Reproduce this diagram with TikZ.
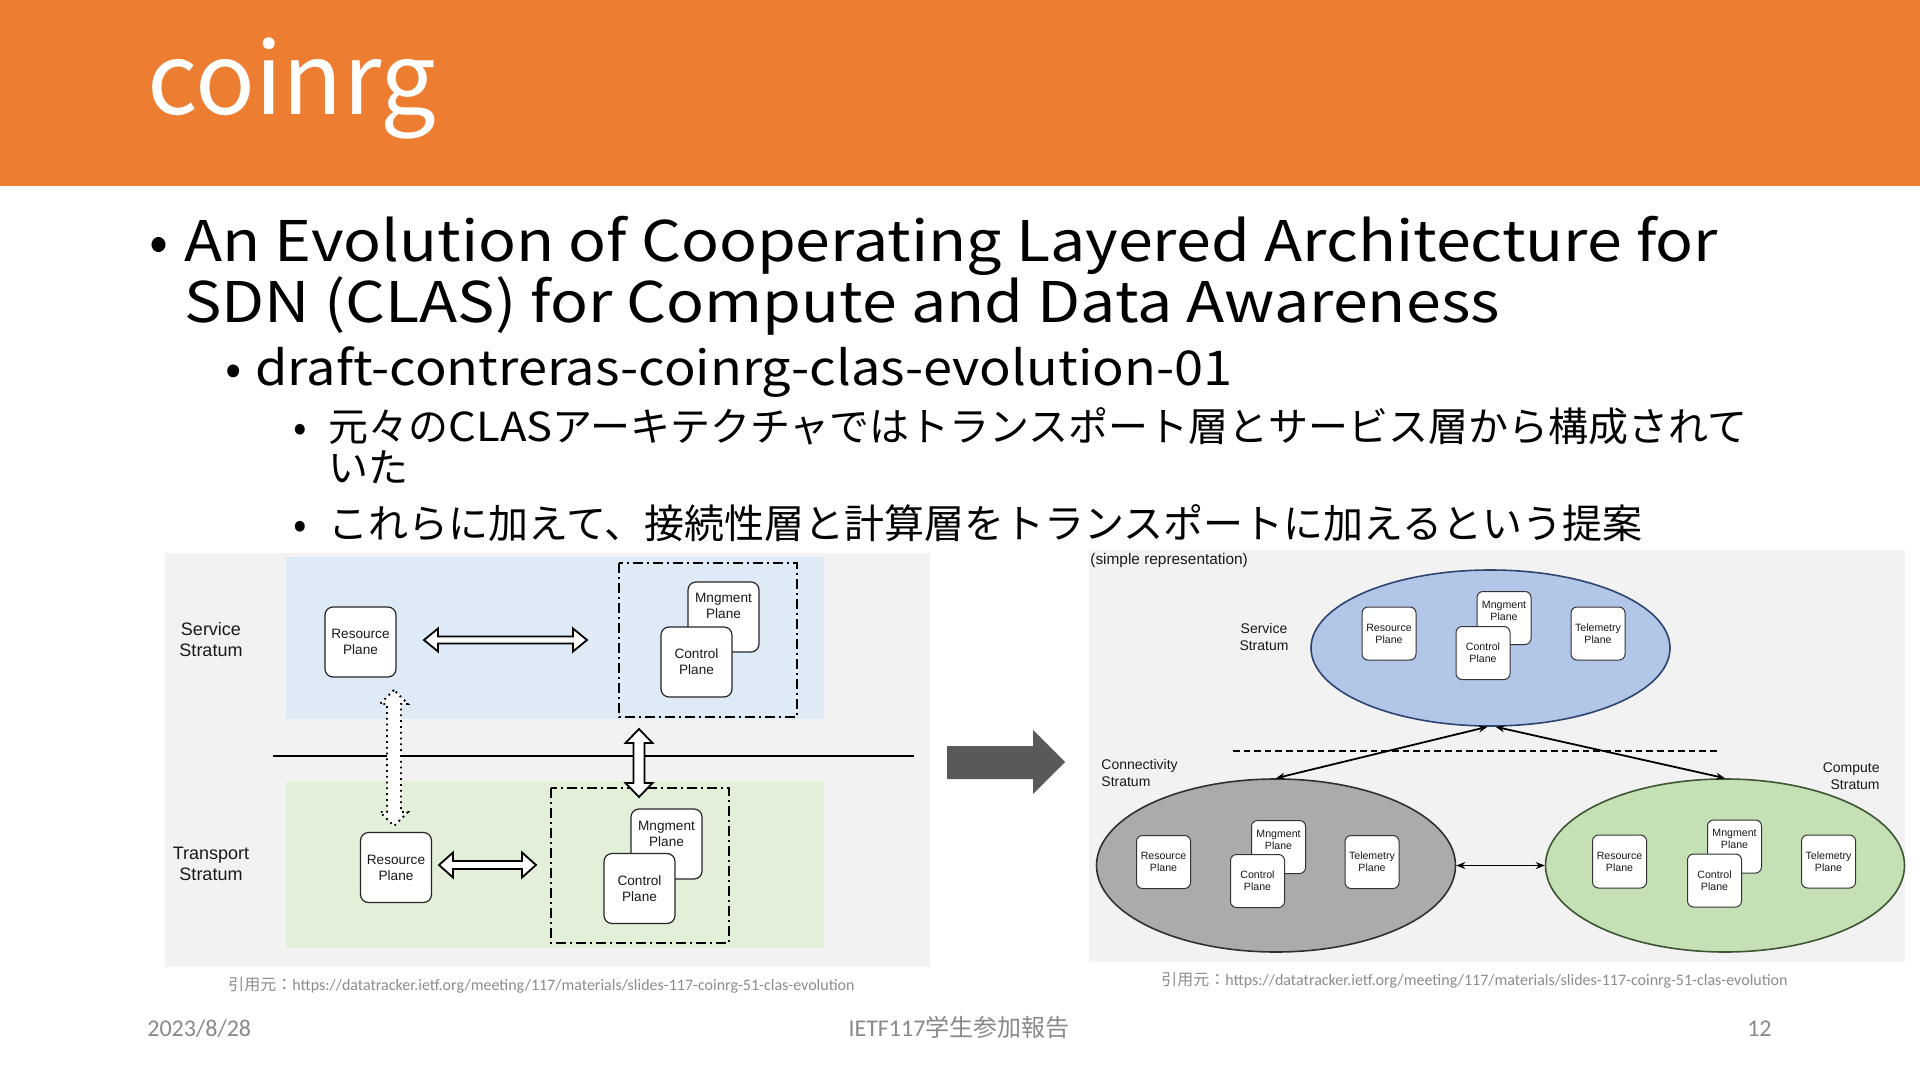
\documentclass[tikz,border=0pt]{standalone}
\usepackage{fontspec}
\setmainfont{Noto Sans CJK JP}
\newfontfamily\arialf{Liberation Sans}
\newfontfamily\calf{Carlito}
\newfontfamily\widea[FakeStretch=1.12]{Noto Sans CJK JP}
\newfontfamily\wideb[FakeStretch=1.09]{Noto Sans CJK JP}
\usetikzlibrary{shapes.geometric,arrows.meta,calc}
\definecolor{orangehd}{HTML}{ED7D31}
\definecolor{panelbg}{HTML}{F2F2F2}
\definecolor{bluereg}{HTML}{DEEAF6}
\definecolor{greenreg}{HTML}{E2F0D9}
\definecolor{ellblue}{HTML}{B2C6E8}
\definecolor{ellbluedk}{HTML}{2E4470}
\definecolor{ellgray}{HTML}{ABABAB}
\definecolor{ellgraydk}{HTML}{303030}
\definecolor{ellgreen}{HTML}{C6E0B5}
\definecolor{ellgreendk}{HTML}{3D5533}
\definecolor{bigarrow}{HTML}{595959}
\definecolor{footgray}{HTML}{898989}
\definecolor{citegray}{HTML}{8C8C8C}
\newcommand{\hollowH}[6]{%
  \draw[hollow,#6] (#1,#3) -- ({#1+14},{#3-#5}) -- ({#1+14},{#3-#4}) -- ({#2-14},{#3-#4}) -- ({#2-14},{#3-#5}) -- (#2,#3) -- ({#2-14},{#3+#5}) -- ({#2-14},{#3+#4}) -- ({#1+14},{#3+#4}) -- ({#1+14},{#3+#5}) -- cycle;}
\newcommand{\hollowV}[6]{%
  \draw[hollow,#6] (#3,#1) -- ({#3-#5},{#1+14}) -- ({#3-#4},{#1+14}) -- ({#3-#4},{#2-14}) -- ({#3-#5},{#2-14}) -- (#3,#2) -- ({#3+#5},{#2-14}) -- ({#3+#4},{#2-14}) -- ({#3+#4},{#1+14}) -- ({#3+#5},{#1+14}) -- cycle;}
\begin{document}
\begin{tikzpicture}[x=0.5pt,y=-0.5pt,
  txt/.style={inner sep=0pt, anchor=base west},
  lbox/.style={draw=black!85, line width=0.6pt, fill=white, rounded corners=4pt,
     minimum width=35.5pt, minimum height=35pt, inner sep=0pt},
  ltxt/.style={inner sep=0pt, align=center, text=black!90, font=\arialf\fontsize{6.8}{8}\selectfont},
  rbox/.style={draw=black!80, line width=0.5pt, fill=white, rounded corners=3pt,
     minimum width=27pt, minimum height=26.5pt, inner sep=0pt},
  rtxt/.style={inner sep=0pt, align=center, text=black!90, font=\arialf\fontsize{5.3}{6}\selectfont},
  stlab/.style={inner sep=0pt, align=center, text=black!90, font=\arialf\fontsize{9}{10.5}\selectfont},
  rlab/.style={inner sep=0pt, text=black!90, font=\arialf\fontsize{7}{8.5}\selectfont},
  hollow/.style={draw=black, line width=0.9pt, fill=white, line join=miter},
  dashdotbox/.style={draw=black, line width=1pt, dash pattern=on 5pt off 2pt on 1pt off 2pt},
  ell/.style={ellipse, line width=0.8pt, minimum width=179.5pt, minimum height=78pt, inner sep=0pt},
  tipped/.style={line width=0.9pt, {Stealth[length=4.5pt,width=3.5pt]}-{Stealth[length=4.5pt,width=3.5pt]}}
]
\useasboundingbox (0,0) rectangle (1920,1080);
\fill[white] (0,0) rectangle (1920,1080);
% header
\fill[orangehd] (0,0) rectangle (1920,186);
\node[txt, text=white, font=\fontsize{49.5}{56}\selectfont] (title) at (147,115) {coinrg};
% bullets
\node[txt, font=\fontsize{28}{30}\selectfont] (b1) at (149,262) {•};
\node[txt, font=\widea\fontsize{28}{30}\selectfont] (t1a) at (184,262) {An Evolution of Cooperating Layered Architecture for};
\node[txt, font=\widea\fontsize{28}{30}\selectfont] (t1b) at (184,322) {SDN (CLAS) for Compute and Data Awareness};
\node[txt, font=\fontsize{24}{28}\selectfont] (b2) at (225,386) {•};
\node[txt, font=\wideb\fontsize{24}{28}\selectfont] (t2) at (255,386) {draft-contreras-coinrg-clas-evolution-01};
\node[txt, font=\fontsize{20}{24}\selectfont] (b3) at (293,441) {•};
\node[txt, font=\fontsize{20}{24}\selectfont] (t3a) at (328,441) {元々の{\wideb CLAS}アーキテクチャではトランスポート層とサービス層から構成されて};
\node[txt, font=\fontsize{20}{24}\selectfont] (t3b) at (328,482) {いた};
\node[txt, font=\fontsize{20}{24}\selectfont] (b4) at (293,538) {•};
\node[txt, font=\fontsize{20}{24}\selectfont] (t4) at (328,538) {これらに加えて、接続性層と計算層をトランスポートに加えるという提案};

% ===== left diagram =====
\fill[panelbg] (165,553) rectangle (930,967);
\fill[bluereg] (286,557) rectangle (824,719);
\fill[greenreg] (286,781) rectangle (824,948);
\draw[line width=1pt] (273,756) -- (914,756);
\node[stlab] (ss) at (211,640) {Service\\Stratum};
\node[stlab] (ts) at (211,864) {Transport\\Stratum};
\draw[dashdotbox] (619,563) rectangle (797,717);
\draw[dashdotbox] (551,788) rectangle (729,943);
\node[lbox] (rp1) at (360.5,642) {};
\node[ltxt] at (rp1.center) {Resource\\Plane};
\node[lbox] (mg1) at (723.5,617) {};
\node[ltxt] at ([yshift=5.5pt]mg1.center) {Mngment\\Plane};
\node[lbox] (cp1) at (696.5,662) {};
\node[ltxt] at (cp1.center) {Control\\Plane};
\node[lbox] (rp2) at (396,867.5) {};
\node[ltxt] at (rp2.center) {Resource\\Plane};
\node[lbox] (mg2) at (666.5,844) {};
\node[ltxt] at ([yshift=5pt]mg2.center) {Mngment\\Plane};
\node[lbox] (cp2) at (639.5,888.5) {};
\node[ltxt] at (cp2.center) {Control\\Plane};
\hollowH{424}{587}{640}{3.5}{11.5}{}
\hollowH{439}{536}{865}{4}{12.5}{}
\hollowV{729}{797}{639}{5.5}{13.5}{}
\hollowV{690}{826}{394}{7}{14}{dotted}

% big arrow
\fill[bigarrow] (947,746) -- (1033,746) -- (1033,730) -- (1065,762) -- (1033,794) -- (1033,779) -- (947,779) -- cycle;

% ===== right diagram =====
\fill[panelbg] (1089,550) rectangle (1905,962);
\node[rlab, anchor=west, font=\arialf\fontsize{7.7}{9}\selectfont] (simp) at (1090,561) {(simple representation)};
\draw[line width=1pt, dash pattern=on 3.3pt off 2pt] (1233,751) -- (1720,751);
\node[ell, draw=ellbluedk, fill=ellblue] (es) at (1490.5,648) {};
\node[ell, draw=ellgraydk, fill=ellgray, minimum height=86.5pt] (ec) at (1276,865.5) {};
\node[ell, draw=ellgreendk, fill=ellgreen, minimum height=86.5pt] (ep) at (1725,865.5) {};
\draw[tipped] ([xshift=-1.5pt]es.south) -- (ec.north);
\draw[tipped] ([xshift=2.5pt]es.south) -- (ep.north);
\draw[tipped] (ec.east) -- (ep.west);
\node[rlab, align=center] (rss) at (1264,637) {Service\\Stratum};
\node[rlab, align=left, anchor=west] (rcs) at (1101,773) {Connectivity\\Stratum};
\node[rlab, align=right, anchor=east] (rps) at (1880,776) {Compute\\Stratum};
% top ellipse boxes
\node[rbox] (s_rp) at (1389,633.5) {};
\node[rtxt] at (s_rp.center) {Resource\\Plane};
\node[rbox] (s_mg) at (1504,618) {};
\node[rtxt] at ([yshift=3.7pt]s_mg.center) {Mngment\\Plane};
\node[rbox] (s_cp) at (1483,653) {};
\node[rtxt] at (s_cp.center) {Control\\Plane};
\node[rbox] (s_tp) at (1598,633.5) {};
\node[rtxt] at (s_tp.center) {Telemetry\\Plane};
% connectivity boxes
\node[rbox] (c_rp) at (1163.5,862) {};
\node[rtxt] at (c_rp.center) {Resource\\Plane};
\node[rbox] (c_mg) at (1278.5,847) {};
\node[rtxt] at ([yshift=3.7pt]c_mg.center) {Mngment\\Plane};
\node[rbox] (c_cp) at (1257.5,881) {};
\node[rtxt] at (c_cp.center) {Control\\Plane};
\node[rbox] (c_tp) at (1372,862) {};
\node[rtxt] at (c_tp.center) {Telemetry\\Plane};
% compute boxes
\node[rbox] (p_rp) at (1619.5,861.5) {};
\node[rtxt] at (p_rp.center) {Resource\\Plane};
\node[rbox] (p_mg) at (1734.5,846.5) {};
\node[rtxt] at ([yshift=3.7pt]p_mg.center) {Mngment\\Plane};
\node[rbox] (p_cp) at (1714.5,880.5) {};
\node[rtxt] at (p_cp.center) {Control\\Plane};
\node[rbox] (p_tp) at (1828.5,861.5) {};
\node[rtxt] at (p_tp.center) {Telemetry\\Plane};

% citations
\node[txt, text=citegray, font=\fontsize{8}{9}\selectfont] (cite1) at (228,990) {引用元：{\calf https://datatracker.ietf.org/meeting/117/materials/slides-117-coinrg-51-clas-evolution}};
\node[txt, text=citegray, font=\fontsize{8}{9}\selectfont] (cite2) at (1161,985) {引用元：{\calf https://datatracker.ietf.org/meeting/117/materials/slides-117-coinrg-51-clas-evolution}};
% footer
\node[txt, text=footgray, font=\calf\fontsize{12}{14}\selectfont] (date) at (147,1036) {2023/8/28};
\node[inner sep=0pt, anchor=base, text=footgray, font=\fontsize{12}{14}\selectfont] (foot) at (959,1036) {{\calf IETF117}学生参加報告};
\node[inner sep=0pt, anchor=base east, text=footgray, font=\calf\fontsize{12}{14}\selectfont] (pg) at (1772,1036) {12};
\end{tikzpicture}
\end{document}
